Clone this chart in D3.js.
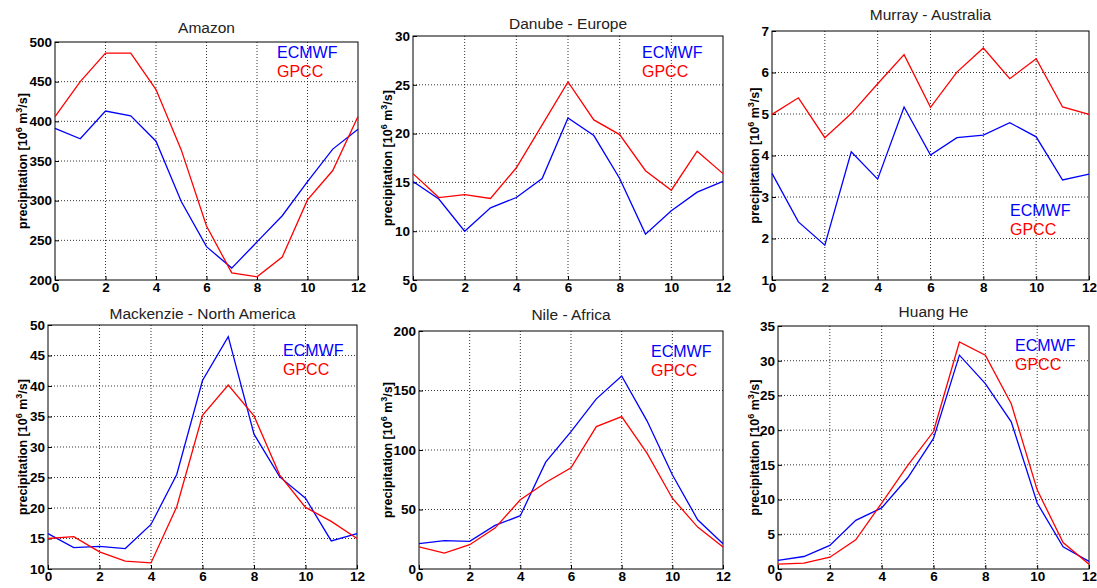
<!DOCTYPE html>
<html lang='en'>
  <head>
    <meta charset='utf-8'>
    <script src='https://cdnjs.cloudflare.com/ajax/libs/d3/7.8.5/d3.min.js'></script>
    <style>
      body { margin: 0; background: #fff; }
      svg { font-family: Arial, 'Liberation Sans', Helvetica, sans-serif; }
      .tick text { font-family: Arial, 'Liberation Sans', Helvetica, sans-serif;
                   font-weight: bold; font-size: 13.5px; fill: #000; }
      .grid line { stroke: #000; stroke-width: 0.8; stroke-dasharray: 1,2; }
    </style>
  </head>
  <body>
    <div id='chart'></div>
    <script>
      // months on the x axis
      var months = [0, 1, 2, 3, 4, 5, 6, 7, 8, 9, 10, 11, 12];
      var xTicks = [0, 2, 4, 6, 8, 10, 12];

      // panel titles
      var titles = ['Amazon', 'Danube - Europe', 'Murray - Australia',
                    'Mackenzie - North America', 'Nile - Africa', 'Huang He'];

      // y domains and tick values per panel
      var yDomains = [[200, 500], [5, 30], [1, 7], [10, 50], [0, 200], [0, 35]];
      var yTicks = [
        [200, 250, 300, 350, 400, 450, 500],
        [5, 10, 15, 20, 25, 30],
        [1, 2, 3, 4, 5, 6, 7],
        [10, 15, 20, 25, 30, 35, 40, 45, 50],
        [0, 50, 100, 150, 200],
        [0, 5, 10, 15, 20, 25, 30, 35]
      ];

      // ECMWF series
      var ecmwfAmazon    = [391, 378, 413, 407, 375, 299, 242, 215, 248, 281, 324, 365, 390];
      var ecmwfDanube    = [15.1, 13.3, 10.0, 12.4, 13.45, 15.4, 21.6, 19.8, 15.4, 9.7, 12.1, 14.0, 15.1];
      var ecmwfMurray    = [3.57, 2.4, 1.84, 4.09, 3.43, 5.17, 4.01, 4.43, 4.49, 4.79, 4.45, 3.41, 3.55];
      var ecmwfMackenzie = [15.8, 13.5, 13.7, 13.35, 17.3, 25.5, 40.9, 48.1, 32.1, 25.1, 21.6, 14.6, 15.8];
      var ecmwfNile      = [21.3, 23.8, 23.2, 36.6, 44.8, 89.8, 115.5, 143, 162.2, 124.5, 79.2, 41.4, 21.3];
      var ecmwfHuangHe   = [1.25, 1.8, 3.4, 7.0, 8.8, 13.1, 18.8, 30.8, 26.7, 21.2, 9.5, 3.2, 1.1];

      // GPCC series
      var gpccAmazon    = [406, 450, 486, 486, 440, 364, 268, 209, 204, 229, 301, 338, 406];
      var gpccDanube    = [15.9, 13.45, 13.75, 13.35, 16.5, 20.9, 25.3, 21.4, 19.9, 16.2, 14.2, 18.2, 15.9];
      var gpccMurray    = [4.99, 5.39, 4.43, 5.01, 5.73, 6.43, 5.16, 6.01, 6.59, 5.85, 6.33, 5.17, 4.99];
      var gpccMackenzie = [15.0, 15.3, 12.8, 11.3, 11.0, 20.2, 35.2, 40.15, 35.1, 25.4, 20.1, 17.8, 15.0];
      var gpccNile      = [18.5, 13.4, 20.4, 34.4, 58.2, 72.7, 85, 119.7, 128.1, 97.3, 59.5, 35.2, 18.5];
      var gpccHuangHe   = [0.7, 0.85, 1.7, 4.2, 9.5, 14.9, 19.8, 32.7, 30.8, 23.8, 11.4, 3.8, 0.7];

      var ecmwf = [ecmwfAmazon, ecmwfDanube, ecmwfMurray, ecmwfMackenzie, ecmwfNile, ecmwfHuangHe];
      var gpcc = [gpccAmazon, gpccDanube, gpccMurray, gpccMackenzie, gpccNile, gpccHuangHe];

      // plot box positions (pixels), title baseline, legend anchor, y label x
      var layout = [
        {l: 55,  r: 358,  t: 42,  b: 280, ty: 33,  lx: 277,  ly: 52,  yl: 22},
        {l: 413, r: 723,  t: 36,  b: 280, ty: 29,  lx: 642,  ly: 52,  yl: 387},
        {l: 772, r: 1089, t: 31,  b: 280, ty: 20,  lx: 1010, ly: 210, yl: 754},
        {l: 48,  r: 357,  t: 325, b: 569, ty: 319, lx: 283,  ly: 350, yl: 22},
        {l: 419, r: 723,  t: 331, b: 569, ty: 320, lx: 651,  ly: 351, yl: 387},
        {l: 778, r: 1089, t: 326, b: 569, ty: 317, lx: 1015, ly: 345, yl: 754}
      ];

      var svgWidth = 1097;
      var svgHeight = 588;

      var svg = d3.select('#chart').append('svg')
                  .attr('width', svgWidth)
                  .attr('height', svgHeight);

      for (var p = 0; p < 6; p++) {
        var box = layout[p];

        var xScale = d3.scaleLinear()
                       .domain([0, 12])
                       .range([box.l, box.r]);

        var yScale = d3.scaleLinear()
                       .domain(yDomains[p])
                       .range([box.b, box.t]);

        var g = svg.append('g');

        // dotted grid
        g.append('g')
         .attr('class', 'grid')
         .selectAll('line.gx')
         .data(xTicks.slice(1, -1))
         .enter().append('line')
           .attr('x1', function(d){ return xScale(d); })
           .attr('x2', function(d){ return xScale(d); })
           .attr('y1', box.t)
           .attr('y2', box.b);

        g.append('g')
         .attr('class', 'grid')
         .selectAll('line.gy')
         .data(yTicks[p].slice(1, -1))
         .enter().append('line')
           .attr('x1', box.l)
           .attr('x2', box.r)
           .attr('y1', function(d){ return yScale(d); })
           .attr('y2', function(d){ return yScale(d); });

        // axes
        var xAxis = d3.axisBottom(xScale)
                      .tickValues(xTicks)
                      .tickSize(-4)
                      .tickPadding(3)
                      .tickFormat(d3.format('d'));

        var yAxis = d3.axisLeft(yScale)
                      .tickValues(yTicks[p])
                      .tickSize(-4)
                      .tickPadding(3)
                      .tickFormat(d3.format('d'));

        var xg = g.append('g')
                  .attr('transform', 'translate(0,' + box.b + ')')
                  .call(xAxis);
        xg.select('.domain').remove();
        xg.selectAll('.tick line').attr('stroke', '#000');
        xg.selectAll('.tick text').attr('dy', '0.78em').attr('y', 1);

        var yg = g.append('g')
                  .attr('transform', 'translate(' + box.l + ',0)')
                  .call(yAxis);
        yg.select('.domain').remove();
        yg.selectAll('.tick line').attr('stroke', '#000');

        // frame
        g.append('rect')
         .attr('x', box.l)
         .attr('y', box.t)
         .attr('width', box.r - box.l)
         .attr('height', box.b - box.t)
         .attr('fill', 'none')
         .attr('stroke', '#000')
         .attr('stroke-width', 1);

        // lines
        var line = d3.line()
                     .x(function(d, i){ return xScale(months[i]); })
                     .y(function(d){ return yScale(d); });

        g.append('path')
         .datum(ecmwf[p])
         .attr('d', line)
         .attr('fill', 'none')
         .attr('stroke', '#0000ff')
         .attr('stroke-width', 1.3);

        g.append('path')
         .datum(gpcc[p])
         .attr('d', line)
         .attr('fill', 'none')
         .attr('stroke', '#ff0000')
         .attr('stroke-width', 1.3);

        // title
        g.append('text')
         .text(titles[p])
         .attr('x', (box.l + box.r) / 2)
         .attr('y', box.ty)
         .attr('text-anchor', 'middle')
         .style('font-size', '15.5px')
         .style('fill', '#222');

        // legend text
        g.append('text')
         .text('ECMWF')
         .attr('x', box.lx)
         .attr('y', box.ly)
         .attr('dy', '0.36em')
         .style('font-size', '16px')
         .style('fill', '#0000ff');

        g.append('text')
         .text('GPCC')
         .attr('x', box.lx)
         .attr('y', box.ly + 19)
         .attr('dy', '0.36em')
         .style('font-size', '16px')
         .style('fill', '#ff0000');

        // y label
        var yl = g.append('text')
                  .attr('transform', 'translate(' + box.yl + ',' + ((box.t + box.b) / 2) + ') rotate(-90)')
                  .attr('text-anchor', 'middle')
                  .attr('dy', '0.36em')
                  .style('font-size', '12.5px')
                  .style('font-weight', 'bold');
        yl.append('tspan').text('precipitation [10');
        yl.append('tspan').text('6').attr('baseline-shift', 'super').style('font-size', '9px');
        yl.append('tspan').text(' m');
        yl.append('tspan').text('3').attr('baseline-shift', 'super').style('font-size', '9px');
        yl.append('tspan').text('/s]');
      }
    </script>
  </body>
</html>
